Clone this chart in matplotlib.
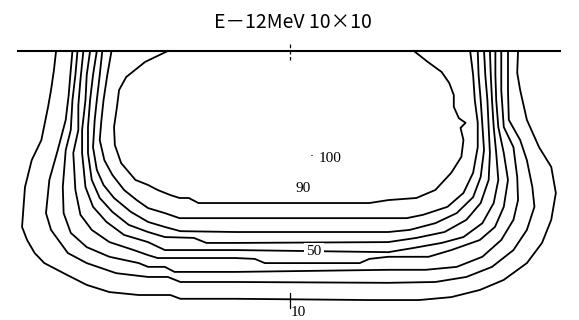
import numpy as np
import matplotlib
matplotlib.use("Agg")
import matplotlib.pyplot as plt

# isodose lines, E-12MeV 10x10 field; (lateral x [cm], depth [cm])
iso10 = np.array([
    (-5.57, 0), (-5.62, 0.45), (-5.69, 0.93), (-5.76, 1.33), (-5.92, 2.12), (-6.15, 2.60),
    (-6.31, 3.24), (-6.38, 4.19), (-6.26, 4.50), (-6.08, 4.81), (-5.85, 5.05), (-5.39, 5.29),
    (-4.84, 5.57), (-4.30, 5.74), (-3.60, 5.81), (-2.85, 5.81), (-2.61, 5.90), (-1.29, 5.90),
    (1.89, 5.93), (3.07, 5.93), (3.84, 5.86), (4.52, 5.69), (5.09, 5.45), (5.64, 5.05),
    (6.00, 4.57), (6.22, 4.02), (6.33, 3.38), (6.22, 2.76), (5.93, 2.29), (5.64, 1.64),
    (5.48, 0.93), (5.41, 0.52), (5.43, 0)])
iso20 = np.array([
    (-5.18, 0), (-5.22, 0.45), (-5.27, 1.05), (-5.34, 1.64), (-5.53, 2.36), (-5.73, 3.07),
    (-5.81, 3.86), (-5.69, 4.26), (-5.29, 4.81), (-4.84, 5.05), (-4.14, 5.29), (-3.38, 5.38),
    (-2.91, 5.38), (-2.61, 5.50), (-1.29, 5.50), (2.34, 5.52), (3.46, 5.50), (4.20, 5.38),
    (4.81, 5.14), (5.32, 4.74), (5.64, 4.26), (5.82, 3.71), (5.77, 3.24), (5.64, 2.60),
    (5.48, 2.12), (5.21, 1.64), (5.19, 0.93), (5.19, 0)])
iso30 = np.array([
    (-5.06, 0), (-5.11, 0.57), (-5.18, 1.17), (-5.22, 1.88), (-5.34, 2.36), (-5.41, 3.24),
    (-5.39, 3.86), (-5.22, 4.33), (-4.84, 4.67), (-4.30, 4.90), (-3.60, 5.05), (-3.38, 5.14),
    (-2.98, 5.14), (-2.75, 5.26), (-1.29, 5.26), (2.34, 5.21), (3.23, 5.21), (3.97, 5.14),
    (4.58, 4.90), (5.03, 4.50), (5.32, 4.02), (5.43, 3.55), (5.41, 3.00), (5.32, 2.29),
    (5.09, 1.81), (5.03, 0.93), (5.03, 0)])
iso40 = np.array([
    (-4.92, 0), (-4.99, 0.69), (-5.04, 1.29), (-5.04, 1.88), (-5.16, 2.43), (-5.11, 3.31),
    (-4.99, 3.90), (-4.72, 4.26), (-4.30, 4.55), (-3.72, 4.74), (-3.38, 4.86), (-3.15, 4.93),
    (-1.29, 4.93), (-0.84, 4.95), (-0.60, 5.05), (1.66, 5.05), (1.89, 4.95), (2.34, 4.90),
    (3.30, 4.90), (3.84, 4.74), (4.52, 4.50), (4.88, 4.19), (5.09, 3.71), (5.19, 3.07),
    (5.09, 2.43), (4.96, 1.81), (4.91, 1.17), (4.89, 0.57), (4.89, 0)])
iso50 = np.array([
    (-4.76, 0), (-4.84, 0.57), (-4.87, 1.17), (-4.95, 1.88), (-4.95, 2.43), (-4.87, 3.24),
    (-4.69, 3.71), (-4.37, 4.07), (-3.95, 4.38), (-3.38, 4.55), (-2.98, 4.74), (-1.29, 4.74),
    (2.34, 4.79), (2.94, 4.69), (3.61, 4.57), (4.13, 4.43), (4.58, 4.10), (4.85, 3.62),
    (4.96, 3.07), (4.91, 2.43), (4.85, 1.81), (4.81, 1.17), (4.78, 0.57), (4.76, 0)])
iso60 = np.array([
    (-4.60, 0), (-4.69, 0.57), (-4.76, 1.17), (-4.81, 1.81), (-4.81, 2.43), (-4.72, 3.07),
    (-4.53, 3.50), (-4.23, 3.83), (-3.84, 4.14), (-3.38, 4.31), (-2.98, 4.43), (-2.29, 4.45),
    (-1.99, 4.57), (-1.29, 4.57), (2.34, 4.55), (3.01, 4.45), (3.68, 4.31), (4.20, 4.02),
    (4.54, 3.62), (4.73, 3.07), (4.76, 2.43), (4.73, 1.81), (4.70, 1.17), (4.65, 0.57),
    (4.62, 0)])
iso70 = np.array([
    (-4.47, 0), (-4.53, 0.57), (-4.60, 1.17), (-4.65, 1.64), (-4.69, 2.29), (-4.60, 2.83),
    (-4.44, 3.19), (-4.19, 3.50), (-3.79, 3.83), (-3.38, 4.07), (-2.98, 4.19), (-2.61, 4.29),
    (-1.29, 4.31), (2.34, 4.31), (2.85, 4.26), (3.46, 4.10), (3.97, 3.86), (4.36, 3.48),
    (4.54, 3.00), (4.62, 2.36), (4.58, 1.76), (4.54, 1.17), (4.49, 0.57), (4.47, 0)])
iso80 = np.array([
    (-4.25, 0), (-4.35, 0.57), (-4.44, 1.17), (-4.49, 1.64), (-4.53, 2.12), (-4.42, 2.60),
    (-4.23, 2.95), (-3.95, 3.31), (-3.65, 3.55), (-3.38, 3.74), (-2.98, 3.86), (-2.63, 3.98),
    (-1.29, 3.98), (2.34, 3.98), (2.78, 3.98), (3.17, 3.90), (3.75, 3.71), (4.13, 3.38),
    (4.36, 2.90), (4.47, 2.29), (4.47, 1.71), (4.40, 1.17), (4.36, 0.57), (4.29, 0)])
iso90 = np.array([
    (-2.91, 0), (-3.45, 0.26), (-3.90, 0.62), (-4.07, 0.93), (-4.12, 1.33), (-4.19, 1.81),
    (-4.17, 2.24), (-4.02, 2.67), (-3.68, 3.07), (-3.38, 3.19), (-3.15, 3.31), (-2.85, 3.43),
    (-2.63, 3.50), (-2.41, 3.50), (-2.18, 3.62), (-1.29, 3.62), (1.89, 3.62), (2.34, 3.55),
    (3.01, 3.50), (3.46, 3.31), (3.84, 2.90), (4.08, 2.52), (4.13, 2.12), (4.06, 1.83),
    (4.18, 1.71), (4.02, 1.60), (3.90, 1.33), (3.90, 1.05), (3.79, 0.76), (3.61, 0.50),
    (3.28, 0.26), (2.95, 0)])

curves = [iso10, iso20, iso30, iso40, iso50, iso60, iso70, iso80, iso90]

# labels: text, lateral position, depth
labels = ["100", "90", "50", "10"]
label_x = [0.95, 0.31, 0.57, 0.19]
label_d = [2.55, 3.28, 4.77, 6.22]

surface = [-6.48, 6.43]

fig = plt.figure(figsize=(5.79, 3.20), dpi=100)
ax = fig.add_axes([0, 0, 1, 1])

for c in curves:
    ax.plot(c[:, 0], c[:, 1], color="black", lw=1.3, solid_joinstyle="round")

ax.plot(surface, [0, 0], color="black", lw=1.5)
ax.plot([0, 0], [-0.17, 0.22], color="black", lw=0.9, ls=(0, (3, 2)))
ax.plot([0, 0], [5.76, 6.12], color="black", lw=0.9)

for t, x, d in zip(labels, label_x, label_d):
    box = dict(facecolor="white", edgecolor="none", pad=1.5) if t == "50" else None
    ax.text(x, d, t, ha="center", va="center", fontsize=11,
            family="Liberation Serif", bbox=box)
ax.text(0.52, 2.52, "·", ha="center", va="center", fontsize=9)

ax.text(0.06, -0.67, "E－12MeV 10×10", ha="center", va="center", fontsize=14,
        family=["Noto Sans CJK JP", "DejaVu Sans"])

ax.set_xlim(-6.905, 6.881)
ax.set_ylim(6.405, -1.214)
ax.axis("off")

fig.savefig("out.png", dpi=100)
